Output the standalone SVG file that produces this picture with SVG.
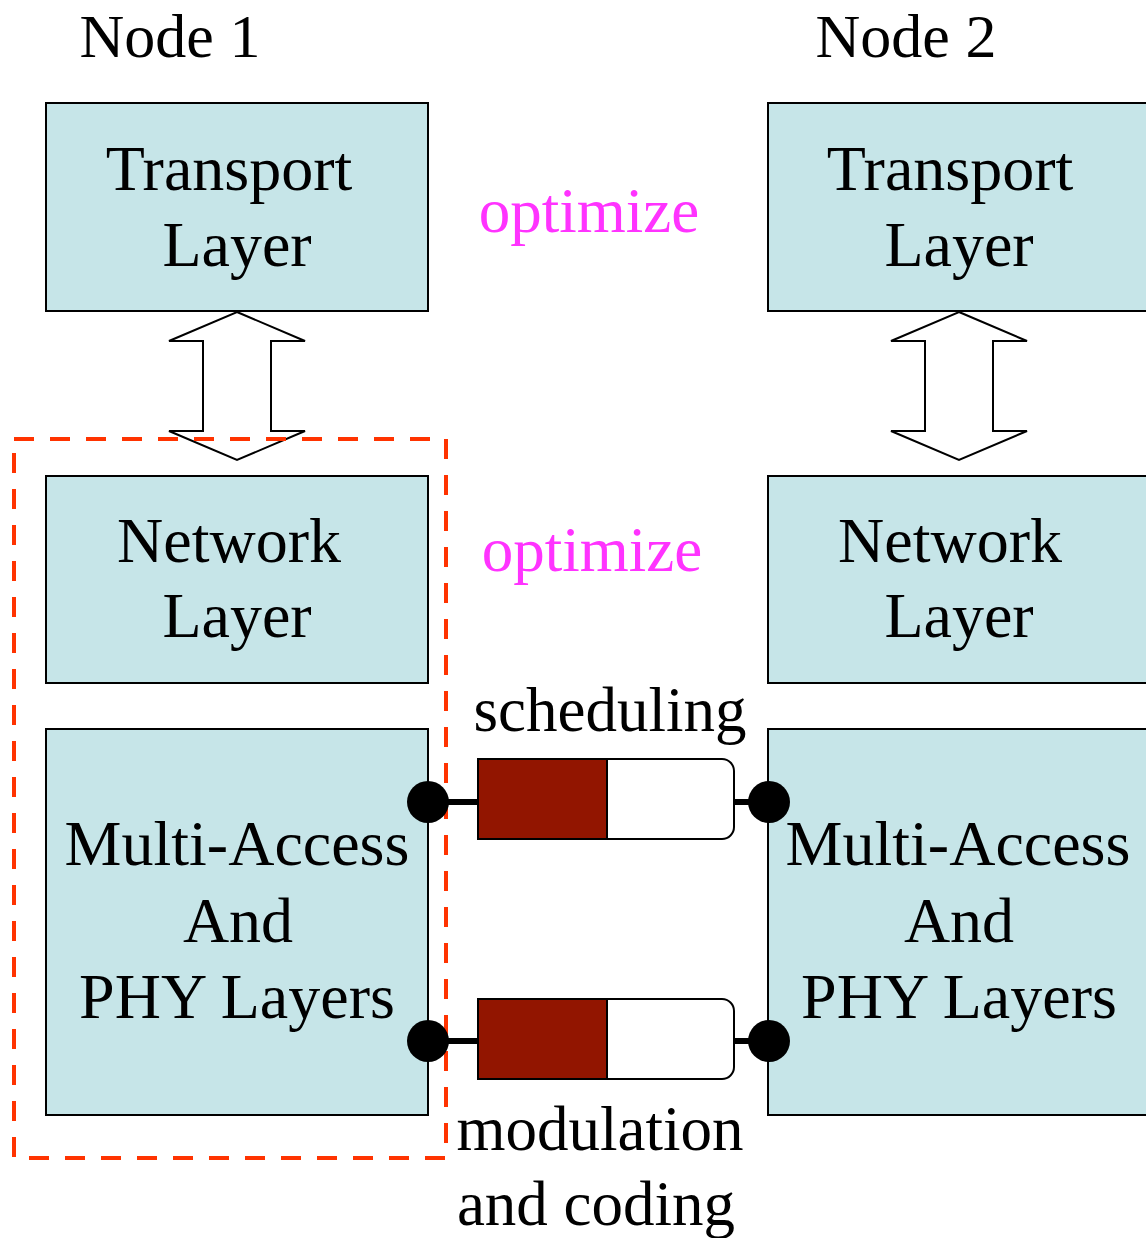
<svg xmlns="http://www.w3.org/2000/svg" width="1146" height="1238" viewBox="0 0 1146 1238">
<style>
text{font-family:"Liberation Serif","Times New Roman",serif;font-size:63px;fill:#000;text-anchor:middle}
.lay{font-size:64px}
.hd{font-size:62px}
.opt{fill:#FF33FF}
.box{fill:#C6E5E8;stroke:#000;stroke-width:2}
.arr{fill:#fff;stroke:#000;stroke-width:2;stroke-linejoin:miter}
.link{stroke:#000;stroke-width:6}
.dot{fill:#000}
.red{fill:#921500;stroke:#000;stroke-width:2}
.wht{fill:#fff;stroke:#000;stroke-width:2}
.dash{fill:none;stroke:#FF3300;stroke-width:4;stroke-dasharray:20 16}
</style>
<rect width="1146" height="1238" fill="#fff"/>
<text class="hd" x="170" y="57">Node 1</text>
<text class="hd" x="906" y="57">Node 2</text>
<g id="n1-transport"><rect class="box" x="46" y="103" width="382" height="208"/><text class="lay" x="229" y="190">Transport</text><text class="lay" x="237" y="266">Layer</text></g>
<g id="n1-network"><rect class="box" x="46" y="476" width="382" height="207"/><text class="lay" x="229" y="562">Network</text><text class="lay" x="237" y="637">Layer</text></g>
<g id="n1-phy"><rect class="box" x="46" y="729" width="382" height="386"/><text class="lay" x="237" y="865">Multi-Access</text><text class="lay" x="238" y="942">And</text><text class="lay" x="237" y="1018">PHY Layers</text></g>
<g id="n2-transport"><rect class="box" x="768" y="103" width="390" height="208"/><text class="lay" x="950" y="190">Transport</text><text class="lay" x="959" y="266">Layer</text></g>
<g id="n2-network"><rect class="box" x="768" y="476" width="390" height="207"/><text class="lay" x="950" y="562">Network</text><text class="lay" x="959" y="637">Layer</text></g>
<g id="n2-phy"><rect class="box" x="768" y="729" width="390" height="386"/><text class="lay" x="958" y="865">Multi-Access</text><text class="lay" x="959" y="942">And</text><text class="lay" x="959" y="1018">PHY Layers</text></g>
<g id="arrow1"><polygon class="arr" points="237,312 305,341 271,341 271,431 305,431 237,460 169,431 203,431 203,341 169,341"/></g>
<g id="arrow2"><polygon class="arr" points="959,312 1027,341 993,341 993,431 1027,431 959,460 891,431 925,431 925,341 891,341"/></g>
<rect id="cross-layer" class="dash" x="14" y="439" width="432" height="719"/>
<text class="opt" x="589" y="232">optimize</text>
<text class="opt" x="592" y="571">optimize</text>
<text x="610" y="731">scheduling</text>
<text x="600" y="1150">modulation</text>
<text x="596" y="1225">and coding</text>
<g id="connectors">
<g id="link-sched">
<line class="link" x1="428" y1="802" x2="769" y2="802"/>
<path class="wht" d="M607,759 H722 A12,12 0 0 1 734,771 V827 A12,12 0 0 1 722,839 H607 Z"/>
<rect class="red" x="478" y="759" width="129" height="80"/>
<circle class="dot" cx="428" cy="802" r="21"/>
<circle class="dot" cx="769" cy="802" r="21"/>
</g>
<g id="link-mod">
<line class="link" x1="428" y1="1041" x2="769" y2="1041"/>
<path class="wht" d="M607,999 H722 A12,12 0 0 1 734,1011 V1067 A12,12 0 0 1 722,1079 H607 Z"/>
<rect class="red" x="478" y="999" width="129" height="80"/>
<circle class="dot" cx="428" cy="1041" r="21"/>
<circle class="dot" cx="769" cy="1041" r="21"/>
</g>
</g>
</svg>
